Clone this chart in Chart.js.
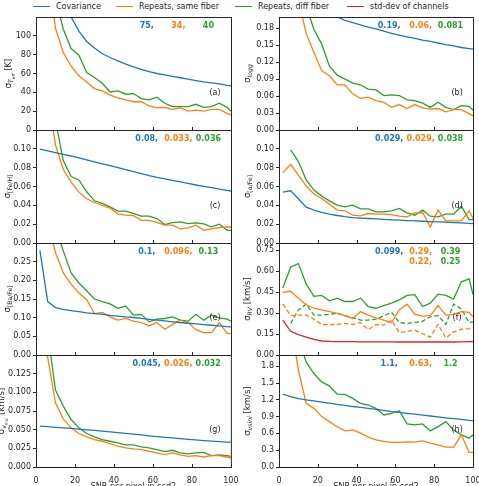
<!DOCTYPE html>
<html lang="en">
<head>
<meta charset="UTF-8">
<title>Uncertainty vs SNR</title>
<script src="https://cdn.jsdelivr.net/npm/chart.js@4.4.1/dist/chart.umd.min.js"></script>
<style>
  body { margin: 0; background: #fff; overflow: hidden; }
  #fig { position: relative; width: 479px; height: 486px; overflow: hidden; background: #fff;
         font-family: 'DejaVu Sans', sans-serif; }
  #fig canvas { position: absolute; }
  .leg { position: absolute; top: 1px; font-size: 8px; line-height: 12px; color: #262626; white-space: nowrap; }
  .leg i { display: inline-block; width: 17px; height: 0; border-top: 1.5px solid; vertical-align: middle; margin-right: 6px; }
</style>
</head>
<body>
<div id="fig">
  <div class="leg" style="left:33px"><i style="border-color:#1f77b4"></i>Covariance</div>
  <div class="leg" style="left:116px"><i style="border-color:#ff7f0e"></i>Repeats, same fiber</div>
  <div class="leg" style="left:235px"><i style="border-color:#2ca02c"></i>Repeats, diff fiber</div>
  <div class="leg" style="left:347px"><i style="border-color:#d62728"></i>std-dev of channels</div>
</div>
<script>
// SNR grid shared by every panel
const snr = [2, 6, 10, 14, 18, 22, 26, 30, 34, 38, 42, 46, 50, 54, 58, 62, 66, 70, 74, 78, 82, 86, 90, 94, 98, 100];
const xTicks = [0, 20, 40, 60, 80, 100];

// (a) Teff
const teffCov  = [330, 195, 155, 133, 120, 105, 94, 87, 81, 77, 73.5, 70, 67, 64.5, 62, 60, 58.5, 57, 55.5, 54, 52.5, 51, 50, 49, 47.5, 47];
const teffSame = [400, 170, 108, 82, 68, 57.5, 51, 44, 41.5, 37, 34, 32, 30, 30, 25.5, 23.4, 24, 22, 23.4, 20, 21, 20, 22, 22, 17.7, 16];
const teffDiff = [500, 220, 140, 107, 86.5, 79.4, 61, 55.7, 49.6, 40.4, 41.5, 38, 38.7, 33.3, 32, 34.8, 28.4, 24.8, 24.8, 24.8, 27.3, 24, 24.8, 28.4, 24, 20];
const teffTicks = [0, 20, 40, 60, 80, 100];
const teffNotes = ['75,', '34,', '40'];

// (b) logg
const loggCov  = [0.43, 0.31, 0.27, 0.245, 0.228, 0.215, 0.206, 0.2, 0.194, 0.19, 0.186, 0.182, 0.179, 0.175, 0.171, 0.168, 0.165, 0.162, 0.159, 0.157, 0.154, 0.151, 0.149, 0.146, 0.144, 0.143];
const loggSame = [0.9, 0.35, 0.23, 0.171, 0.137, 0.105, 0.096, 0.08, 0.08, 0.064, 0.056, 0.058, 0.052, 0.049, 0.04, 0.045, 0.038, 0.045, 0.039, 0.037, 0.038, 0.032, 0.036, 0.036, 0.029, 0.025];
const loggDiff = [1.2, 0.45, 0.3, 0.22, 0.178, 0.152, 0.113, 0.097, 0.09, 0.083, 0.08, 0.0725, 0.071, 0.061, 0.062, 0.061, 0.0535, 0.052, 0.0475, 0.04, 0.049, 0.04, 0.036, 0.043, 0.042, 0.035];
const loggTicks = [0, 0.03, 0.06, 0.09, 0.12, 0.15, 0.18];
const loggNotes = ['0.19,', '0.06,', '0.081'];

// (c) [Fe/H]
const fehCov  = [0.0996, 0.0978, 0.096, 0.0942, 0.0924, 0.0904, 0.0883, 0.0862, 0.0841, 0.0821, 0.08, 0.0779, 0.0758, 0.0737, 0.0716, 0.0697, 0.068, 0.0664, 0.0648, 0.0632, 0.0616, 0.0601, 0.0587, 0.0573, 0.0559, 0.0552];
const fehSame = [0.4, 0.16, 0.104, 0.078, 0.065, 0.054, 0.047, 0.043, 0.04, 0.037, 0.031, 0.0295, 0.029, 0.024, 0.024, 0.022, 0.019, 0.019, 0.015, 0.016, 0.019, 0.0135, 0.015, 0.0164, 0.017, 0.017];
const fehDiff = [0.5, 0.2, 0.13, 0.0875, 0.0705, 0.067, 0.0544, 0.0448, 0.042, 0.0384, 0.0338, 0.0338, 0.0313, 0.0285, 0.0285, 0.026, 0.0196, 0.0217, 0.0224, 0.0206, 0.0214, 0.0203, 0.0171, 0.02, 0.0135, 0.0135];
const fehTicks = [0, 0.02, 0.04, 0.06, 0.08, 0.10];
const fehNotes = ['0.08,', '0.033,', '0.036'];

// (d) [alpha/Fe]
const alphaCov  = [0.054, 0.0555, 0.047, 0.038, 0.0349, 0.0324, 0.0306, 0.0292, 0.028, 0.027, 0.0265, 0.026, 0.0256, 0.0251, 0.0246, 0.0242, 0.0238, 0.0235, 0.0231, 0.0228, 0.0224, 0.0221, 0.0217, 0.0213, 0.0209, 0.0206];
const alphaSame = [0.0747, 0.0836, 0.0722, 0.0605, 0.052, 0.0473, 0.0413, 0.0349, 0.0342, 0.0295, 0.0288, 0.0313, 0.0306, 0.0306, 0.0302, 0.0285, 0.0278, 0.032, 0.0324, 0.0171, 0.0349, 0.0235, 0.0235, 0.0235, 0.0342, 0.026];
const alphaDiff = [null, 0.099, 0.0865, 0.0669, 0.0562, 0.0498, 0.0448, 0.0402, 0.0384, 0.0402, 0.0363, 0.0363, 0.0331, 0.0331, 0.0342, 0.0367, 0.032, 0.0295, 0.0349, 0.0285, 0.0278, 0.0306, 0.0306, 0.0391, 0.0249, 0.0249];
const alphaTicks = [0, 0.02, 0.04, 0.06, 0.08, 0.10];
const alphaNotes = ['0.029,', '0.029,', '0.038'];

// (e) [Ba/Fe]
const baCov  = [0.28, 0.143, 0.127, 0.122, 0.119, 0.116, 0.113, 0.111, 0.109, 0.106, 0.104, 0.102, 0.1005, 0.098, 0.0955, 0.0933, 0.0912, 0.089, 0.087, 0.085, 0.0833, 0.0815, 0.0797, 0.0778, 0.076, 0.0752];
const baSame = [1.0, 0.36, 0.274, 0.22, 0.19, 0.166, 0.148, 0.111, 0.114, 0.102, 0.0933, 0.0978, 0.0906, 0.087, 0.0779, 0.087, 0.0688, 0.0815, 0.0933, 0.087, 0.0679, 0.0598, 0.0598, 0.087, 0.058, 0.058];
const baDiff = [1.2, 0.5, 0.34, 0.279, 0.22, 0.193, 0.172, 0.15, 0.143, 0.137, 0.125, 0.131, 0.107, 0.109, 0.0888, 0.096, 0.0978, 0.102, 0.0933, 0.0906, 0.109, 0.0933, 0.107, 0.0996, 0.096, 0.0906];
const baTicks = [0, 0.05, 0.10, 0.15, 0.20, 0.25];
const baNotes = ['0.1,', '0.096,', '0.13'];

// (f) RV, solid and dashed repeats plus channel scatter
const rvStd      = [0.249, 0.169, 0.145, 0.128, 0.111, 0.1, 0.097, 0.096, 0.095, 0.095, 0.094, 0.094, 0.094, 0.094, 0.094, 0.093, 0.093, 0.093, 0.093, 0.093, 0.093, 0.093, 0.093, 0.094, 0.095, 0.096];
const rvSame     = [0.447, 0.455, 0.406, 0.358, 0.334, 0.322, 0.31, 0.298, 0.281, 0.261, 0.31, 0.285, 0.266, 0.249, 0.232, 0.322, 0.363, 0.29, 0.278, 0.281, 0.353, 0.285, 0.29, 0.31, 0.305, 0.273];
const rvSameDash = [0.363, 0.281, 0.285, 0.285, 0.256, 0.218, 0.218, 0.218, 0.225, 0.218, 0.232, 0.181, 0.218, 0.213, 0.249, 0.16, 0.169, 0.177, 0.152, 0.128, 0.218, 0.121, 0.165, 0.184, 0.189, 0.194];
const rvDiff     = [0.479, 0.629, 0.653, 0.508, 0.419, 0.426, 0.387, 0.406, 0.382, 0.382, 0.406, 0.346, 0.334, 0.353, 0.37, 0.394, 0.426, 0.431, 0.346, 0.37, 0.435, 0.426, 0.399, 0.523, 0.544, 0.431];
const rvDiffDash = [null, 0.225, 0.322, 0.363, 0.285, 0.285, 0.29, 0.298, 0.281, 0.266, 0.249, 0.249, 0.256, 0.281, 0.305, 0.232, 0.225, 0.232, 0.242, 0.273, 0.281, 0.218, 0.363, 0.329, 0.232, 0.237];
const rvTicks = [0, 0.15, 0.30, 0.45, 0.60, 0.75];
const rvNotes = ['0.099,', '0.29,', '0.39'];
const rvNotesDash = ['', '0.22,', '0.25'];

// (g) vmic
const vmicCov  = [0.0547, 0.054, 0.0532, 0.0525, 0.0516, 0.0507, 0.0498, 0.049, 0.048, 0.0471, 0.0461, 0.045, 0.044, 0.043, 0.0418, 0.0408, 0.0398, 0.0389, 0.038, 0.0371, 0.0362, 0.0354, 0.0346, 0.0339, 0.0334, 0.0332];
const vmicSame = [0.4, 0.147, 0.086, 0.0645, 0.0524, 0.0448, 0.0403, 0.0367, 0.0345, 0.0314, 0.0278, 0.0255, 0.0242, 0.0233, 0.0211, 0.0188, 0.0166, 0.0188, 0.0161, 0.0143, 0.0152, 0.0134, 0.0152, 0.0152, 0.0134, 0.0121];
const vmicDiff = [0.5, 0.18, 0.103, 0.0815, 0.0636, 0.0524, 0.0448, 0.0403, 0.0367, 0.0345, 0.0323, 0.0296, 0.0296, 0.0269, 0.0255, 0.0233, 0.0206, 0.0224, 0.0188, 0.0175, 0.0188, 0.0197, 0.0152, 0.0161, 0.0152, 0.0143];
const vmicTicks = [0, 0.025, 0.05, 0.075, 0.1, 0.125];
const vmicNotes = ['0.045,', '0.026,', '0.032'];

// (h) vsini
const vsiniCov  = [1.30, 1.255, 1.22, 1.20, 1.18, 1.16, 1.14, 1.12, 1.10, 1.08, 1.065, 1.048, 1.03, 1.01, 0.99, 0.975, 0.958, 0.943, 0.927, 0.911, 0.895, 0.879, 0.864, 0.849, 0.833, 0.822];
const vsiniSame = [5, 2.6, 1.73, 1.136, 1.047, 0.9, 0.81, 0.72, 0.645, 0.663, 0.604, 0.533, 0.485, 0.456, 0.438, 0.438, 0.45, 0.444, 0.467, 0.426, 0.396, 0.355, 0.355, 0.574, 0.26, 0.26];
const vsiniDiff = [6, 3, 2.3, 1.876, 1.669, 1.52, 1.444, 1.3, 1.296, 1.225, 1.136, 1.107, 1.047, 0.929, 0.959, 1.006, 0.769, 0.751, 0.769, 0.645, 0.722, 0.81, 0.663, 0.574, 0.515, 0.574];
const vsiniTicks = [0, 0.3, 0.6, 0.9, 1.2, 1.5, 1.8];
const vsiniNotes = ['1.1,', '0.63,', '1.2'];

const colors = { cov: '#1f77b4', same: '#ff7f0e', diff: '#2ca02c', std: '#d62728' };
const noteColors = [colors.cov, colors.same, colors.diff];
const ink = '#262626';

// layout of the 4x2 grid
const rowTop = [17, 130, 243, 355];
const rowBottom = [130, 243, 355, 467];
const colLeft = [0, 240];
const colCanvasW = [240, 260];
const colAxisW = [36, 39];
const colPadRight = [9, 27];
const padTop = 12;

// label parts: [text, size factor, baseline shift, italic]
const panels = [
  { col: 0, row: 0, max: 120, yTicks: teffTicks, dec: 0, labelX: 8,
    label: [['σ', 1, 0], ['T', .72, 2, 1], ['eff', .5, 3.5, 1], [' [K]', 1, 0]],
    lines: [[teffCov, 'cov'], [teffSame, 'same'], [teffDiff, 'diff']], notes: [teffNotes], tag: '(a)' },
  { col: 1, row: 0, max: 0.2, yTicks: loggTicks, dec: 2, labelX: 7,
    label: [['σ', 1, 0], ['logg', .72, 2, 1]],
    lines: [[loggCov, 'cov'], [loggSame, 'same'], [loggDiff, 'diff']], notes: [loggNotes], tag: '(b)' },
  { col: 0, row: 1, max: 0.12, yTicks: fehTicks, dec: 2, labelX: 6.5,
    label: [['σ', 1, 0], ['[Fe/H]', .72, 2]],
    lines: [[fehCov, 'cov'], [fehSame, 'same'], [fehDiff, 'diff']], notes: [fehNotes], tag: '(c)' },
  { col: 1, row: 1, max: 0.12, yTicks: alphaTicks, dec: 2, labelX: 7,
    label: [['σ', 1, 0], ['[α/Fe]', .72, 2]],
    lines: [[alphaCov, 'cov'], [alphaSame, 'same'], [alphaDiff, 'diff']], notes: [alphaNotes], tag: '(d)' },
  { col: 0, row: 2, max: 0.3, yTicks: baTicks, dec: 2, labelX: 6.5,
    label: [['σ', 1, 0], ['[Ba/Fe]', .72, 2]],
    lines: [[baCov, 'cov'], [baSame, 'same'], [baDiff, 'diff']], notes: [baNotes], tag: '(e)' },
  { col: 1, row: 2, max: 0.8, yTicks: rvTicks, dec: 2, labelX: 7,
    label: [['σ', 1, 0], ['RV', .72, 2, 1], [' [km/s]', 1, 0]],
    lines: [[rvSame, 'same'], [rvSameDash, 'same', true], [rvDiff, 'diff'], [rvDiffDash, 'diff', true], [rvStd, 'std']],
    notes: [rvNotes, rvNotesDash], tag: '(f)' },
  { col: 0, row: 3, max: 0.15, yTicks: vmicTicks, dec: 3, labelX: 1,
    label: [['σ', 1, 0], ['v', .72, 2, 1], ['mic', .5, 3.5, 1], [' [km/s]', 1, 0]],
    lines: [[vmicCov, 'cov'], [vmicSame, 'same'], [vmicDiff, 'diff']], notes: [vmicNotes], tag: '(g)' },
  { col: 1, row: 3, max: 2.0, yTicks: vsiniTicks, dec: 1, labelX: 7,
    label: [['σ', 1, 0], ['vsini', .72, 2, 1], [' [km/s]', 1, 0]],
    lines: [[vsiniCov, 'cov'], [vsiniSame, 'same'], [vsiniDiff, 'diff']], notes: [vsiniNotes], tag: '(h)' }
];

Chart.defaults.font.family = "'DejaVu Sans', sans-serif";
Chart.defaults.font.size = 8;
Chart.defaults.color = ink;

function drawLabel(ctx, parts, cx, cy) {
  const base = 8.5;
  const fontOf = p => (p[3] ? 'italic ' : '') + (base * p[1]).toFixed(2) + "px 'DejaVu Sans'";
  let total = 0;
  const widths = parts.map(p => { ctx.font = fontOf(p); const w = ctx.measureText(p[0]).width; total += w; return w; });
  ctx.save();
  ctx.translate(cx, cy);
  ctx.rotate(-Math.PI / 2);
  ctx.textAlign = 'left';
  ctx.textBaseline = 'alphabetic';
  ctx.fillStyle = ink;
  let x = -total / 2;
  parts.forEach((p, i) => { ctx.font = fontOf(p); ctx.fillText(p[0], x, 3 + p[2]); x += widths[i]; });
  ctx.restore();
}

const panelDecor = {
  id: 'panelDecor',
  afterDraw(chart) {
    const p = chart.config.options.plugins.panelDecor.panel;
    const { ctx, chartArea: a, scales: { x } } = chart;
    ctx.save();
    ctx.strokeStyle = ink;
    ctx.lineWidth = 1;
    ctx.strokeRect(a.left + 0.5, a.top + 0.5, a.right - a.left, a.bottom - a.top);
    // inward x ticks
    ctx.beginPath();
    xTicks.forEach(v => {
      const px = Math.round(x.getPixelForValue(v)) + 0.5;
      ctx.moveTo(px, a.bottom + 0.5);
      ctx.lineTo(px, a.bottom - 3);
    });
    ctx.stroke();
    // numbers in the top right corner
    const w = a.right - a.left;
    const noteX = [0.568, 0.730, 0.884];
    ctx.font = "bold 8px 'DejaVu Sans'";
    ctx.textAlign = 'center';
    ctx.textBaseline = 'middle';
    p.notes.forEach((row, r) => {
      row.forEach((t, i) => {
        ctx.fillStyle = noteColors[i];
        ctx.fillText(t, a.left + w * noteX[i], a.top + 8.5 + r * 10);
      });
    });
    // panel tag
    ctx.font = "8px 'DejaVu Sans'";
    ctx.fillStyle = ink;
    ctx.fillText(p.tag, a.left + w * 0.918, a.bottom - 37);
    ctx.restore();
    drawLabel(ctx, p.label, p.labelX, (a.top + a.bottom) / 2);
  }
};

const fig = document.getElementById('fig');

panels.forEach(p => {
  const bottomRow = p.row === 3;
  const h = rowBottom[p.row] - rowTop[p.row];
  const canvas = document.createElement('canvas');
  canvas.width = colCanvasW[p.col];
  canvas.height = h + padTop + (bottomRow ? 30 : 8);
  canvas.style.left = colLeft[p.col] + 'px';
  canvas.style.top = (rowTop[p.row] - padTop) + 'px';
  fig.appendChild(canvas);

  const datasets = p.lines.map(([vals, kind, dashed]) => ({
    data: snr.map((s, i) => ({ x: s, y: vals[i] })),
    borderColor: colors[kind],
    borderWidth: 1.3,
    borderDash: dashed ? [4.5, 2.5] : [],
    pointRadius: 0,
    fill: false,
    tension: 0,
    spanGaps: false
  }));

  new Chart(canvas, {
    type: 'line',
    data: { datasets },
    options: {
      responsive: false,
      animation: false,
      devicePixelRatio: 1,
      layout: { padding: { top: padTop, bottom: bottomRow ? 0 : 8, left: 0, right: colPadRight[p.col] } },
      plugins: { legend: { display: false }, tooltip: { enabled: false }, panelDecor: { panel: p } },
      scales: {
        x: {
          type: 'linear', min: 0, max: 100,
          display: bottomRow,
          afterBuildTicks: s => { s.ticks = xTicks.map(v => ({ value: v })); },
          afterFit: s => { s.height = bottomRow ? 30 : 0; },
          grid: { display: false },
          border: { display: false },
          ticks: { padding: 1.5, maxRotation: 0, color: ink },
          title: { display: true, text: 'SNR per pixel in ccd2', color: ink, padding: { top: 0, bottom: 5.5 } }
        },
        y: {
          type: 'linear', min: 0, max: p.max,
          afterBuildTicks: s => { s.ticks = p.yTicks.map(v => ({ value: v })); },
          afterFit: s => { s.width = colAxisW[p.col]; },
          grid: { drawOnChartArea: false, drawTicks: true, tickLength: 3, color: ink, lineWidth: 1 },
          border: { display: false },
          ticks: { padding: 2, color: ink, callback: v => v.toFixed(p.dec) }
        }
      }
    },
    plugins: [panelDecor]
  });
});
</script>
</body>
</html>
